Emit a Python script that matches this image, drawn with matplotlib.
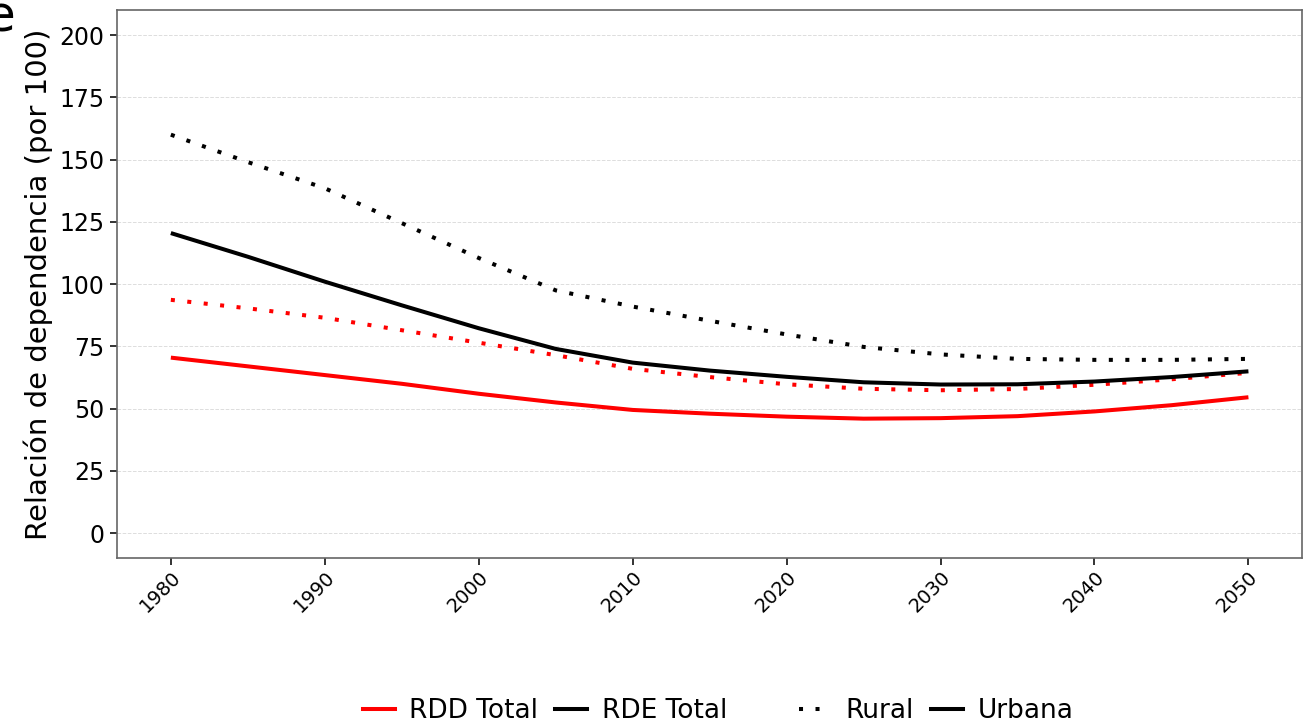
import numpy as np
import matplotlib
matplotlib.use('Agg')
import matplotlib.pyplot as plt
from matplotlib.lines import Line2D

# data (5-year steps)
years = [1980, 1985, 1990, 1995, 2000, 2005, 2010, 2015, 2020, 2025, 2030, 2035, 2040, 2045, 2050]
rde_rural  = [160, 149, 138.5, 124.5, 110.5, 97.5, 91, 85.3, 79.8, 74.8, 71.8, 70, 69.6, 69.6, 70]
rde_urbana = [120.5, 111, 101, 91.5, 82.3, 74, 68.5, 65.3, 62.8, 60.6, 59.7, 59.8, 60.9, 62.7, 65]
rdd_rural  = [93.7, 90.3, 86.5, 81.5, 76.5, 71.5, 66, 62.7, 59.8, 58, 57.4, 57.9, 59.6, 61.8, 64.4]
rdd_urbana = [70.5, 67, 63.5, 60, 56, 52.5, 49.5, 48, 46.8, 46, 46.2, 47, 48.9, 51.4, 54.6]

x_ticks = [1980, 1990, 2000, 2010, 2020, 2030, 2040, 2050]
y_ticks = [0, 25, 50, 75, 100, 125, 150, 175, 200]

plt.rcParams['font.family'] = ['DejaVu Sans']

fig = plt.figure(figsize=(13.04, 7.23), dpi=100)
ax = fig.add_axes([0.0897, 0.228, 0.909, 0.758])

lw = 2.9
dot = (0, (1, 3.1))
ax.plot(years, rde_rural, color='black', lw=lw, linestyle=dot, dash_capstyle='butt')
ax.plot(years, rdd_rural, color='#FF0000', lw=lw, linestyle=dot, dash_capstyle='butt')
ax.plot(years, rde_urbana, color='black', lw=lw, solid_capstyle='butt')
ax.plot(years, rdd_urbana, color='#FF0000', lw=lw, solid_capstyle='butt')

ax.set_xlim(1976.5, 2053.5)
ax.set_ylim(-10, 210)
ax.set_xticks(x_ticks)
ax.set_yticks(y_ticks)
ax.set_xticklabels([str(v) for v in x_ticks], rotation=45, ha='right', va='top',
                   rotation_mode='anchor', fontsize=14)
ax.tick_params(axis='y', labelsize=17)
ax.tick_params(axis='both', direction='out', length=5, width=1.4, color='#333333', pad=4)
ax.tick_params(axis='x', pad=2)

ax.grid(axis='y', color='#dddddd', linestyle='--', linewidth=0.7)
ax.grid(axis='x', visible=False)
ax.set_axisbelow(True)
for s in ax.spines.values():
    s.set_color('#666666')
    s.set_linewidth(1.2)

ax.set_ylabel('Relación de dependencia (por 100)', fontsize=21)
ax.yaxis.set_label_coords(-0.054, 0.5)

# panel letter, partly cut by the figure edge
fig.text(-0.012, 0.956, 'e', fontsize=36, ha='left', va='baseline')

# legends
h1 = [Line2D([], [], color='#FF0000', lw=lw), Line2D([], [], color='black', lw=lw)]
h2 = [Line2D([], [], color='black', lw=lw, linestyle=dot, dash_capstyle='butt'),
      Line2D([], [], color='black', lw=lw)]
kw = dict(frameon=False, ncol=2, fontsize=19, handlelength=1.2, handletextpad=0.55,
          columnspacing=0.65, loc='center')
leg1 = fig.legend(h1, ['RDD Total', 'RDE Total'], bbox_to_anchor=(0.418, 0.016), **kw)
leg2 = fig.legend(h2, ['Rural', 'Urbana'], bbox_to_anchor=(0.718, 0.016), **kw)

fig.savefig('out.png', dpi=100)
